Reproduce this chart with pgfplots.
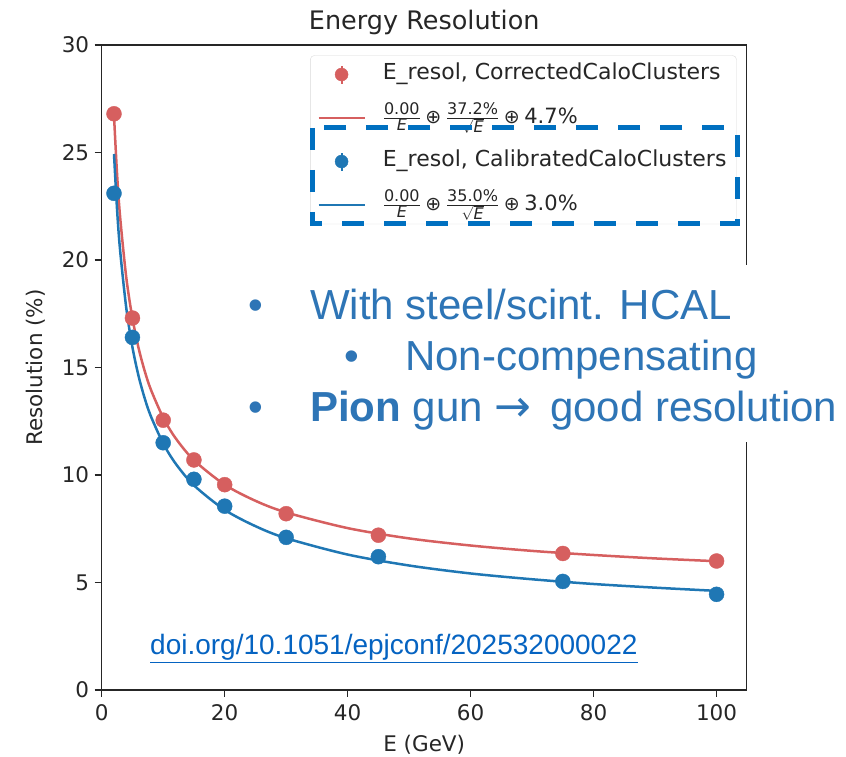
\documentclass[border=0pt]{standalone}
\usepackage{fontspec}
\setmainfont{DejaVu Sans}
\newfontfamily\arial{Liberation Sans}
\usepackage{pgfplots}
\pgfplotsset{compat=1.18}
\definecolor{cred}{HTML}{D65F5F}
\definecolor{cblue}{HTML}{1F77B4}
\definecolor{pptblue}{HTML}{2E75B6}
\definecolor{linkblue}{HTML}{0563C1}
\definecolor{boxblue}{HTML}{0070C0}

\pgfplotsset{
    errleg/.style={legend image code/.code={
        \draw[##1, line width=2pt] (23pt,-9pt) -- (23pt,9pt);
        \fill[##1] (23pt,0pt) circle (6.5pt);}},
    lineleg/.style={legend image code/.code={
        \draw[##1] (0pt,0pt) -- (46pt,0pt);}},
}
% pieces of the fit formula in the legend
\newcommand{\sm}[1]{\mbox{\fontsize{16}{17}\selectfont #1}}
\newcommand{\op}{\mathbin{\mbox{\fontsize{19}{20}\selectfont ⊕}}}
\newcommand{\fitlabel}[2]{$\frac{\sm{0.00}}{\sm{\itshape E}}\op
    \frac{\sm{#1}}{\sqrt{\sm{\itshape E}}}\op\mbox{\fontsize{21}{22}\selectfont #2}$}

% measured points (E in GeV, resolution in %)
\pgfplotstableread{
E res
2 26.8
5 17.3
10 12.55
15 10.7
20 9.55
30 8.2
45 7.2
75 6.35
100 6.0
}\corrpts
\pgfplotstableread{
E res
2 23.1
5 16.4
10 11.5
15 9.8
20 8.55
30 7.1
45 6.2
75 5.05
100 4.45
}\calpts
% fitted curves
\pgfplotstableread{
E res
2 26.72
2.5 23.99
3 21.99
4 19.18
5 17.29
6 15.90
7 14.83
8 13.97
10 12.67
12 11.72
15 10.69
20 9.55
25 8.80
30 8.26
40 7.53
50 7.05
60 6.72
70 6.47
80 6.28
90 6.12
100 5.99
}\corrfit
\pgfplotstableread{
E res
2 24.93
2.5 22.34
3 20.43
4 17.76
5 15.94
6 14.60
7 13.56
8 12.73
10 11.47
12 10.54
15 9.52
20 8.38
25 7.62
30 7.06
40 6.30
50 5.79
60 5.42
70 5.15
80 4.93
90 4.76
100 4.61
}\calfit

\begin{document}
\begin{tikzpicture}[x=1pt,y=1pt]
\useasboundingbox (0,0) rectangle (846,757);
\begin{axis}[
    at={(101.7pt,67pt)}, anchor=south west,
    scale only axis,
    width=645pt, height=645pt,
    xmin=0, xmax=104.9,
    ymin=0, ymax=30,
    xtick={0,20,40,60,80,100},
    ytick={0,5,10,15,20,25,30},
    tick align=outside,
    tick pos=left,
    major tick length=7pt,
    every tick/.style={black!85, line width=1.2pt},
    axis line style={black!85, line width=1.3pt},
    /pgf/number format/assume math mode=true,
    tick label style={font=\fontsize{21.5}{24}\selectfont, text=black!85},
    xticklabel style={yshift=-4pt},
    yticklabel style={xshift=-2pt},
    title={Energy Resolution},
    title style={font=\fontsize{25.5}{28}\selectfont, text=black!85,
        at={(axis description cs:0.5,1.014)}, anchor=base},
    xlabel={E (GeV)},
    ylabel={Resolution (\%)},
    label style={font=\fontsize{21.5}{24}\selectfont, text=black!85},
    xlabel style={at={(axis description cs:0.5,-0.085)}, anchor=center},
    ylabel style={at={(axis description cs:-0.102,0.5)}, anchor=center},
    legend style={
        at={(0.9845,0.984)}, anchor=north east,
        draw=black!15, rounded corners=4pt,
        font=\fontsize{22}{26}\selectfont, text=black!85,
        inner xsep=7pt, inner ysep=5pt,
        nodes={inner sep=3pt, text height=16pt, text depth=6pt},
        column sep=14pt, row sep=15.5pt,
        cells={anchor=west},
    },
    legend cell align=left,
]
\addlegendimage{cred, errleg}
\addlegendentry{E\_resol, CorrectedCaloClusters}
\addlegendimage{cred, line width=2.5pt, lineleg}
\addlegendentry{\fitlabel{37.2\%}{4.7\%}}
\addlegendimage{cblue, errleg}
\addlegendentry{E\_resol, CalibratedCaloClusters}
\addlegendimage{cblue, line width=2.5pt, lineleg}
\addlegendentry{\fitlabel{35.0\%}{3.0\%}}

\addplot[cred, line width=2.5pt, smooth, forget plot] table[x=E, y=res] {\corrfit};
\addplot[cblue, line width=2.5pt, smooth, forget plot] table[x=E, y=res] {\calfit};
\addplot[only marks, mark=*, mark size=7.5pt, color=cred, forget plot] table[x=E, y=res] {\corrpts};
\addplot[only marks, mark=*, mark size=7.5pt, color=cblue, forget plot] table[x=E, y=res] {\calpts};
\end{axis}

% slide overlay
\draw[boxblue, line width=5pt, dash pattern=on 22pt off 20pt] (312,629) rectangle (737,533);
\fill[white] (235,315) rectangle (846,492);
\begin{scope}[every node/.style={anchor=base west, inner sep=0pt, text=pptblue,
    font=\arial\fontsize{42}{48}\selectfont}]
\node at (248,437) {•};
\node at (310,437) {With steel/scint. HCAL};
\node at (344,386) {•};
\node at (405,386) {Non-compensating};
\node at (248,335) {•};
\node at (310,335) {\textbf{Pion} gun {\normalfont\fontsize{44}{48}\selectfont →}\hspace{7pt} good resolution};
\end{scope}
\node[anchor=base west, inner sep=0pt, text=linkblue, font=\arial\fontsize{28}{32}\selectfont]
    at (150,102) {\underline{doi.org/10.1051/epjconf/202532000022}};
\end{tikzpicture}
\end{document}
